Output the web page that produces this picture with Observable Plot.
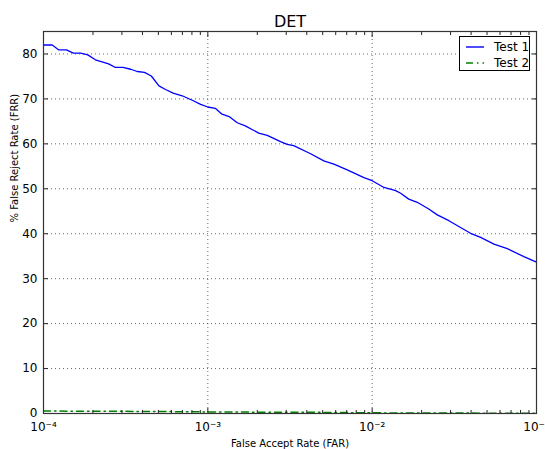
<!DOCTYPE html>
<html>
<head>
<meta charset="utf-8">
<script src="https://cdn.jsdelivr.net/npm/d3@7"></script>
<script src="https://cdn.jsdelivr.net/npm/@observablehq/plot@0.6"></script>
<style>
  body { margin: 0; background: #fff; }
  #wrap { position: relative; width: 545px; height: 449px; font-family: "DejaVu Sans", sans-serif; }
  #legend { position: absolute; left: 459px; top: 36px; width: 71px; height: 35px; border: 1px solid #000; background: #fff; box-sizing: border-box; }
  #legend .row { position: absolute; left: 0; height: 16px; display: flex; align-items: center; font-size: 12px; color: #000; white-space: nowrap; }
  #legend svg { margin-left: 6px; margin-right: 10px; flex: none; }
</style>
</head>
<body>
<div id="wrap">
  <div id="chart"></div>
  <div id="legend"></div>
</div>
<script>
// ---- data ----
const seriesNames = ["Test 1", "Test 2"];
const seriesColors = ["#0000ff", "#008000"];

const test1FAR = [1.00e-4, 1.13e-4, 1.24e-4, 1.38e-4, 1.52e-4, 1.68e-4, 1.86e-4, 2.07e-4, 2.49e-4, 2.74e-4,
  3.05e-4, 3.39e-4, 3.72e-4, 4.12e-4, 4.53e-4, 5.04e-4, 5.53e-4, 6.15e-4, 6.98e-4, 8.04e-4,
  9.04e-4, 1.00e-3, 1.11e-3, 1.22e-3, 1.36e-3, 1.51e-3, 1.69e-3, 2.04e-3, 2.30e-3, 2.77e-3,
  3.04e-3, 3.33e-3, 4.22e-3, 5.08e-3, 5.85e-3, 7.05e-3, 8.91e-3, 1.00e-2, 1.18e-2, 1.39e-2,
  1.49e-2, 1.67e-2, 1.88e-2, 2.21e-2, 2.49e-2, 2.93e-2, 3.45e-2, 3.97e-2, 4.57e-2, 5.51e-2,
  6.64e-2, 8.38e-2, 1.00e-1];
const test1FRR = [82.0, 82.0, 80.9, 80.9, 80.2, 80.2, 79.8, 78.7, 77.8, 77.0,
  77.0, 76.6, 76.1, 75.9, 75.1, 72.9, 72.1, 71.3, 70.7, 69.7,
  68.8, 68.2, 67.9, 66.6, 66.0, 64.7, 64.0, 62.4, 61.9, 60.5,
  59.9, 59.6, 57.8, 56.2, 55.5, 54.2, 52.5, 51.8, 50.3, 49.6,
  49.0, 47.7, 47.0, 45.5, 44.2, 42.9, 41.4, 40.1, 39.2, 37.7,
  36.7, 34.9, 33.7];

const test2FAR = [1e-4, 2e-4, 5e-4, 1e-3, 2e-3, 5e-3, 1e-2, 2e-2, 5e-2, 1e-1];
const test2FRR = [0.55, 0.5, 0.45, 0.35, 0.3, 0.25, 0.15, 0.1, 0.08, 0.05];

const xMajorTicks = [1e-4, 1e-3, 1e-2, 1e-1];
const xTickLabels = ["10\u207B\u2074", "10\u207B\u00B3", "10\u207B\u00B2", "10\u207B\u00B9"];
const xMinorTicks = [1e-4, 1e-3, 1e-2].flatMap(d => [2,3,4,5,6,7,8,9].map(k => k * d));
const yTicks = [0, 10, 20, 30, 40, 50, 60, 70, 80];

const title = "DET";
const xLabel = "False Accept Rate (FAR)";
const yLabel = "% False Reject Rate (FRR)";

// ---- build ----
const t1 = test1FAR.map((x, i) => ({x, y: test1FRR[i]}));
const t2 = test2FAR.map((x, i) => ({x, y: test2FRR[i]}));
const fmtX = d => xTickLabels[xMajorTicks.indexOf(d)] ?? "";
const gridStyle = {stroke: "#000", strokeOpacity: 0.6, strokeDasharray: "1,3"};
const tickStyle = {stroke: "#222", strokeWidth: 1, label: null, tickFormat: () => ""};
const dash2 = "7,4,1.5,4";

const chart = Plot.plot({
  width: 545,
  height: 449,
  marginLeft: 43,
  marginRight: 9,
  marginTop: 31,
  marginBottom: 36,
  style: {fontFamily: "DejaVu Sans", fontSize: "12px", background: "#fff", color: "#000", overflow: "visible"},
  x: {type: "log", domain: [1e-4, 1e-1], label: null},
  y: {domain: [0, 85], label: null},
  marks: [
    Plot.gridX(xMajorTicks.slice(1, 3), gridStyle),
    Plot.gridY(yTicks.slice(1), gridStyle),
    Plot.line(t2, {x: "x", y: "y", stroke: seriesColors[1], strokeWidth: 1.5, strokeDasharray: dash2}),
    Plot.line(t1, {x: "x", y: "y", stroke: seriesColors[0], strokeWidth: 1.3}),
    // ticks (inside)
    Plot.axisX(xMajorTicks, {anchor: "bottom", tickSize: -5, ...tickStyle}),
    Plot.axisX(xMajorTicks, {anchor: "top", tickSize: -5, ...tickStyle}),
    Plot.axisX(xMinorTicks, {anchor: "bottom", tickSize: -3, ...tickStyle}),
    Plot.axisX(xMinorTicks, {anchor: "top", tickSize: -3, ...tickStyle}),
    Plot.axisY(yTicks, {anchor: "left", tickSize: -5, ...tickStyle}),
    Plot.axisY(yTicks, {anchor: "right", tickSize: -5, ...tickStyle}),
    // labels
    Plot.axisX(xMajorTicks, {anchor: "bottom", tickSize: 0, tickPadding: 9, tickFormat: fmtX, label: null, fontSize: 12}),
    Plot.axisY(yTicks, {anchor: "left", tickSize: 0, tickPadding: 6, label: null, fontSize: 12}),
    Plot.frame({stroke: "#333", strokeWidth: 1.2}),
    Plot.text([title], {frameAnchor: "top", dy: -5, text: d => d, fontSize: 16, lineAnchor: "bottom"}),
    Plot.text([xLabel], {frameAnchor: "bottom", dy: 30, text: d => d, fontSize: 10, lineAnchor: "middle"}),
    Plot.text([yLabel], {frameAnchor: "left", dx: -29, text: d => d, fontSize: 10, rotate: -90, lineAnchor: "middle"})
  ]
});
document.getElementById("chart").appendChild(chart);

// ---- legend ----
const legend = document.getElementById("legend");
const dashes = [null, dash2];
seriesNames.forEach((name, i) => {
  const row = document.createElement("div");
  row.className = "row";
  row.style.top = (2 + i * 16) + "px";
  row.innerHTML = `<svg width="18" height="4"><line x1="0" y1="2" x2="18" y2="2" stroke="${seriesColors[i]}" stroke-width="1.4" ${dashes[i] ? `stroke-dasharray="${dashes[i]}"` : ""}/></svg><span>${name}</span>`;
  legend.appendChild(row);
});
</script>
</body>
</html>
